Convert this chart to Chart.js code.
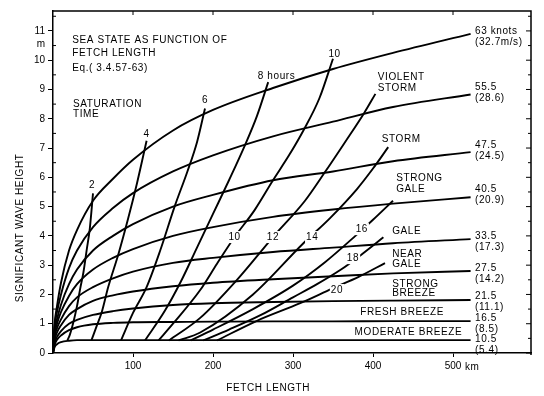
<!DOCTYPE html>
<html>
<head>
<meta charset="utf-8">
<script src="https://cdn.jsdelivr.net/npm/chart.js@4.4.1/dist/chart.umd.min.js"></script>
<style>
  html, body { margin: 0; padding: 0; background: #fff; }
  canvas { display: block; }
</style>
</head>
<body>
<canvas id="chart" width="544" height="396"></canvas>
<script>
// fetch (km) where the wind curves were read
const fetchKm = [0, 2, 5, 10, 20, 30, 50, 75, 100, 150, 200, 275, 350, 425, 522];

// significant wave height (m) for each wind speed
const h63   = [0, 1.0, 1.6, 2.4, 3.5, 4.2, 5.2, 5.95, 6.6, 7.6, 8.3, 9.05, 9.7, 10.25, 10.9];
const h55_5 = [0, 0.9, 1.4, 2.0, 2.9, 3.5, 4.3, 4.95, 5.46, 6.2, 6.75, 7.4, 7.9, 8.4, 8.83];
const h47_5 = [0, 0.75, 1.15, 1.65, 2.35, 2.85, 3.5, 4.0, 4.4, 5.0, 5.4, 5.9, 6.2, 6.55, 6.86];
const h40_5 = [0, 0.65, 1.0, 1.4, 1.95, 2.35, 2.85, 3.25, 3.55, 4.0, 4.3, 4.65, 4.9, 5.1, 5.32];
const h33_5 = [0, 0.55, 0.85, 1.15, 1.6, 1.9, 2.25, 2.55, 2.78, 3.08, 3.25, 3.45, 3.6, 3.75, 3.89];
const h27_5 = [0, 0.45, 0.7, 0.95, 1.3, 1.5, 1.78, 1.97, 2.1, 2.28, 2.4, 2.52, 2.62, 2.72, 2.8];
const h21_5 = [0, 0.35, 0.55, 0.75, 1.0, 1.13, 1.3, 1.43, 1.52, 1.64, 1.7, 1.74, 1.77, 1.79, 1.81];
const h16_5 = [0, 0.28, 0.45, 0.6, 0.78, 0.88, 0.98, 1.03, 1.05, 1.06, 1.07, 1.08, 1.08, 1.09, 1.09];
const h10_5 = [0, 0.2, 0.3, 0.37, 0.42, 0.44, 0.44, 0.44, 0.44, 0.44, 0.44, 0.44, 0.44, 0.44, 0.44];
const windCurves = [h63, h55_5, h47_5, h40_5, h33_5, h27_5, h21_5, h16_5, h10_5];

// saturation time lines (hours): fetch km / height m
const t2F  = [18, 21, 25, 30, 34, 38, 42, 46, 50];
const t2H  = [0.43, 0.62, 1.0, 1.6, 2.2, 2.75, 3.5, 4.25, 5.45];
const t4F  = [48, 55, 61, 69, 82, 94, 105, 117];
const t4H  = [0.43, 0.95, 1.4, 2.25, 3.4, 4.6, 5.8, 7.25];
const t6F  = [85, 100, 117, 134, 152, 168, 180, 190];
const t6H  = [0.43, 1.37, 2.25, 3.5, 5.0, 6.2, 7.2, 8.35];
const t8F  = [115, 140, 160, 180, 200, 220, 240, 255, 269];
const t8H  = [0.43, 1.45, 2.45, 3.6, 4.75, 5.9, 7.1, 8.1, 9.25];
const t10F = [132, 150, 184, 205, 227, 252, 275, 295, 313, 333, 350];
const t10H = [0.43, 1.0, 2.15, 3.05, 3.96, 4.88, 5.9, 6.75, 7.6, 8.7, 10.05];
const t12F = [145, 184, 230, 275, 315, 340, 365, 389, 403];
const t12H = [0.43, 1.2, 2.5, 3.96, 5.2, 6.18, 7.2, 8.2, 8.85];
const t14F = [157, 184, 250, 313, 346, 380, 400, 419];
const t14H = [0.43, 0.7, 2.0, 3.75, 4.6, 5.6, 6.3, 7.03];
const t16F = [172, 200, 250, 300, 340, 378, 400, 425];
const t16H = [0.43, 0.8, 1.5, 2.3, 3.1, 4.0, 4.55, 5.2];
const t18F = [188, 220, 260, 300, 330, 360, 385, 413];
const t18H = [0.43, 0.8, 1.3, 1.9, 2.35, 2.85, 3.35, 3.95];
const t20F = [205, 255, 309, 349, 382, 415];
const t20H = [0.43, 1.1, 1.7, 2.2, 2.6, 3.07];
const durationLines = [[t2F, t2H], [t4F, t4H], [t6F, t6H], [t8F, t8H], [t10F, t10H],
                       [t12F, t12H], [t14F, t14H], [t16F, t16H], [t18F, t18H], [t20F, t20H]];

// axis ticks
const fetchTicks = [100, 200, 300, 400, 500];
const heightTicks = [0, 1, 2, 3, 4, 5, 6, 7, 8, 9, 10, 11];
const unitTickAt = 10.55;

// wind speed labels at the right end: knots, (m/s)
const windKnots = ['63 knots', '55.5', '47.5', '40.5', '33.5', '27.5', '21.5', '16.5', '10.5'];
const windMs = ['(32.7m/s)', '(28.6)', '(24.5)', '(20.9)', '(17.3)', '(14.2)', '(11.1)', '(8.5)', '(5.4)'];
const windLabelH = [10.99, 9.08, 7.10, 5.60, 3.99, 2.90, 1.95, 1.19, 0.48];

// text placed inside the plot: [text, km, m, align]
const notes = [
  ['SEA STATE AS FUNCTION OF', 24, 10.68, 'left'],
  ['FETCH LENGTH', 24, 10.24, 'left'],
  ['Eq.( 3.4.57-63)', 24, 9.73, 'left'],
  ['SATURATION', 25, 8.50, 'left'],
  ['TIME', 25, 8.16, 'left'],
  ['2', 49, 5.72, 'center'],
  ['4', 117, 7.46, 'center'],
  ['6', 190, 8.64, 'center'],
  ['8 hours', 256, 9.45, 'left'],
  ['10', 352, 10.22, 'center'],
  ['VIOLENT', 406, 9.42, 'left'],
  ['STORM', 406, 9.05, 'left'],
  ['STORM', 411, 7.30, 'left'],
  ['STRONG', 429, 5.97, 'left'],
  ['GALE', 429, 5.60, 'left'],
  ['GALE', 424, 4.16, 'left'],
  ['NEAR', 424, 3.38, 'left'],
  ['GALE', 424, 3.04, 'left'],
  ['STRONG', 424, 2.36, 'left'],
  ['BREEZE', 424, 2.05, 'left'],
  ['FRESH BREEZE', 384, 1.40, 'left'],
  ['MODERATE BREEZE', 377, 0.72, 'left']
];
// hour labels sitting on the lines (line is broken behind them)
const hourMarks = [
  ['10', 227, 3.96], ['12', 275, 3.96], ['14', 324, 3.96],
  ['16', 386, 4.23], ['18', 375, 3.24], ['20', 355, 2.15]
];

const toPoints = (xs, ys) => xs.map((v, i) => ({ x: v, y: ys[i] }));
const lineStyle = {
  showLine: true, borderColor: '#000', borderWidth: 1.9,
  pointRadius: 0, cubicInterpolationMode: 'monotone', fill: false
};

const datasets = [];
windCurves.forEach(h => datasets.push(Object.assign({ data: toPoints(fetchKm, h) }, lineStyle)));
durationLines.forEach(([f, h]) => datasets.push(Object.assign({ data: toPoints(f, h) }, lineStyle)));

const font = '10px "Liberation Sans", Arial, sans-serif';

const frame = {
  id: 'frame',
  afterDraw(chart) {
    const { ctx, chartArea: a, scales: { x, y } } = chart;
    ctx.save();
    ctx.strokeStyle = '#000';
    ctx.lineWidth = 1.5;
    ctx.beginPath();
    ctx.moveTo(a.left, a.top);
    ctx.lineTo(a.right, a.top);
    ctx.lineTo(a.right, a.bottom + 2);
    ctx.stroke();

    ctx.lineWidth = 1;
    ctx.beginPath();
    heightTicks.forEach(v => {
      const py = y.getPixelForValue(v);
      ctx.moveTo(a.right, py); ctx.lineTo(a.right - 5, py);
      const ph = y.getPixelForValue(v + 0.5);
      if (v + 0.5 < y.max) {
        ctx.moveTo(a.right, ph); ctx.lineTo(a.right - 3, ph);
        ctx.moveTo(a.left, ph); ctx.lineTo(a.left + 3, ph);
      }
    });
    fetchTicks.forEach(v => {
      const px = x.getPixelForValue(v);
      ctx.moveTo(px, a.top); ctx.lineTo(px, a.top + 4);
    });
    ctx.stroke();

    ctx.fillStyle = '#000';
    ctx.font = font;
    ctx.letterSpacing = '0.6px';
    ctx.textBaseline = 'middle';

    notes.forEach(([t, fx, fy, al]) => {
      ctx.textAlign = al;
      ctx.fillText(t, x.getPixelForValue(fx), y.getPixelForValue(fy));
    });

    hourMarks.forEach(([t, fx, fy]) => {
      const px = x.getPixelForValue(fx), py = y.getPixelForValue(fy);
      const w = ctx.measureText(t).width;
      ctx.fillStyle = '#fff';
      ctx.fillRect(px - w / 2 - 1, py - 6, w + 2, 12);
      ctx.fillStyle = '#000';
      ctx.textAlign = 'center';
      ctx.fillText(t, px, py);
    });

    ctx.textAlign = 'left';
    const lx = x.getPixelForValue(527.5);
    windKnots.forEach((t, i) => {
      const py = y.getPixelForValue(windLabelH[i]);
      ctx.fillText(t, lx, py);
      ctx.fillText(windMs[i], lx, py + 11);
    });

    // axis titles and unit
    ctx.fillText('km', x.getPixelForValue(500) + 12, a.bottom + 14);
    ctx.textAlign = 'center';
    ctx.fillText('FETCH LENGTH', x.getPixelForValue(269), a.bottom + 35);
    ctx.translate(a.left - 33, y.getPixelForValue(4.27));
    ctx.rotate(-Math.PI / 2);
    ctx.fillText('SIGNIFICANT WAVE HEIGHT', 0, 0);
    ctx.restore();
  }
};

new Chart(document.getElementById('chart'), {
  type: 'scatter',
  data: { datasets },
  options: {
    responsive: false,
    animation: false,
    layout: { padding: { top: 11, right: 13, left: 0, bottom: 0 } },
    plugins: { legend: { display: false }, tooltip: { enabled: false } },
    scales: {
      x: {
        type: 'linear', min: 0, max: 597.5,
        afterBuildTicks: s => { s.ticks = fetchTicks.map(v => ({ value: v })); },
        afterFit: s => { s.height = 43; },
        grid: { display: true, drawOnChartArea: false, drawTicks: true, tickLength: 4, color: '#000' },
        border: { display: true, color: '#000', width: 1.5 },
        ticks: { color: '#000', font: { family: '"Liberation Sans", Arial, sans-serif', size: 10 },
                 padding: 3, maxRotation: 0, autoSkip: false }
      },
      y: {
        type: 'linear', min: 0, max: 11.68,
        afterBuildTicks: s => {
          s.ticks = heightTicks.map(v => ({ value: v })).concat([{ value: unitTickAt }]);
        },
        afterFit: s => { s.width = 53; },
        grid: {
          display: true, drawOnChartArea: false, drawTicks: true, tickLength: 5,
          color: c => (c.tick && c.tick.value === unitTickAt) ? 'rgba(0,0,0,0)' : '#000'
        },
        border: { display: true, color: '#000', width: 1.5 },
        ticks: {
          color: '#000', font: { family: '"Liberation Sans", Arial, sans-serif', size: 10 },
          padding: 3, autoSkip: false,
          callback: v => v === unitTickAt ? 'm' : String(v)
        }
      }
    }
  },
  plugins: [frame]
});
</script>
</body>
</html>
